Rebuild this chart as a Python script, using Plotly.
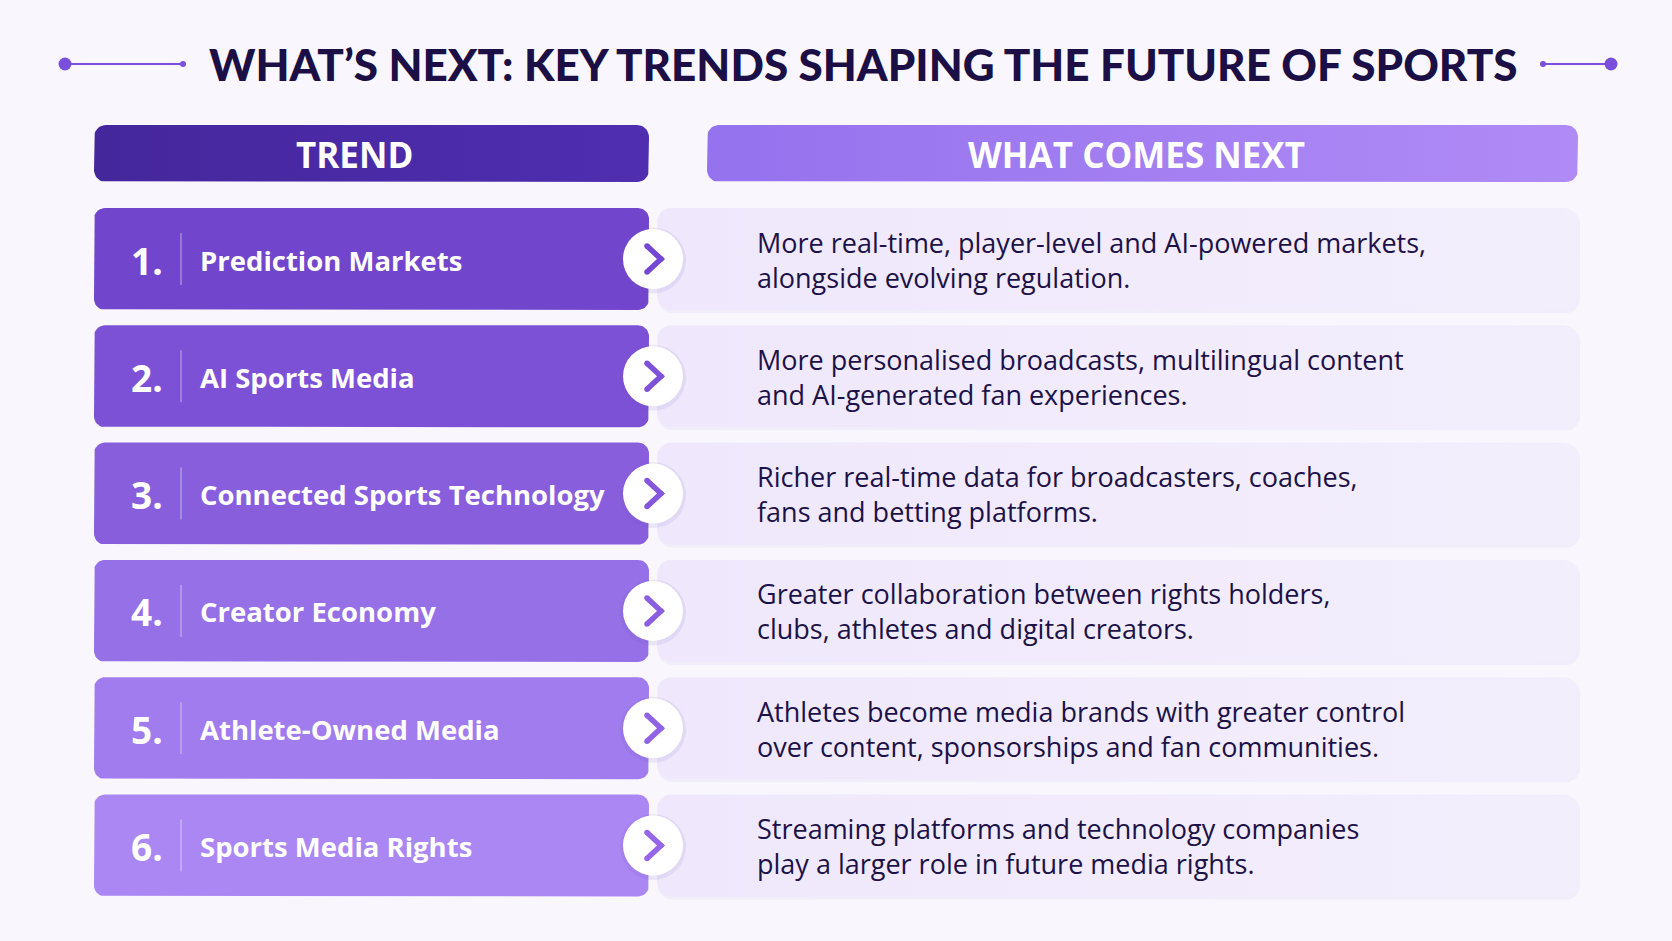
import numpy as np
import plotly.graph_objects as go

# Table content
trends = ["Prediction Markets", "AI Sports Media", "Connected Sports Technology",
          "Creator Economy", "Athlete-Owned Media", "Sports Media Rights"]
next_line1 = ["More real-time, player-level and AI-powered markets,",
              "More personalised broadcasts, multilingual content",
              "Richer real-time data for broadcasters, coaches,",
              "Greater collaboration between rights holders,",
              "Athletes become media brands with greater control",
              "Streaming platforms and technology companies"]
next_line2 = ["alongside evolving regulation.",
              "and AI-generated fan experiences.",
              "fans and betting platforms.",
              "clubs, athletes and digital creators.",
              "over content, sponsorships and fan communities.",
              "play a larger role in future media rights."]
row_colors = ["#7246cc", "#7d51d6", "#885edd", "#9570e6", "#a07cee", "#ab87f4"]
chevron_colors = ["#7448d4", "#7d51d8", "#8456dc", "#8c5ee0", "#9062e4", "#9666e8"]
headers = ["TREND", "WHAT COMES NEXT"]
title = "WHAT\u2019S NEXT: KEY TRENDS SHAPING THE FUTURE OF SPORTS"

W, H = 1672, 941
BG = "#f9f7fd"
NAVY = "#1c1247"
ACCENT = "#7a4fdc"
SANS = "Open Sans"

# layout geometry (pixels, y down)
left_x0, left_x1 = 94, 649
right_x0, right_x1 = 657, 1578
head_y0, head_y1 = 125, 182
row_top, row_h, row_pitch = 208, 102, 117.3
bubble_x = 653


def rrect(x0, y0, x1, y1, r):
    # rounded rectangle outline as polygon points
    xs, ys = [], []
    corners = [(x1 - r, y0 + r, -90, 0), (x1 - r, y1 - r, 0, 90),
               (x0 + r, y1 - r, 90, 180), (x0 + r, y0 + r, 180, 270)]
    for cx, cy, a0, a1 in corners:
        t = np.radians(np.linspace(a0, a1, 10))
        xs += list(cx + r * np.cos(t))
        ys += list(cy + r * np.sin(t))
    return xs + [xs[0]], ys + [ys[0]]


def box(fig, x0, y0, x1, y1, r, color=None, gradient=None):
    xs, ys = rrect(x0, y0, x1, y1, r)
    kw = dict(fillcolor=color) if gradient is None else dict(
        fillgradient=dict(type="horizontal", colorscale=gradient))
    fig.add_trace(go.Scatter(x=xs, y=ys, mode="lines", fill="toself", line=dict(width=0),
                             hoverinfo="skip", showlegend=False, **kw))


fig = go.Figure()

# header bars
box(fig, left_x0, head_y0, left_x1, head_y1, 12, gradient=[[0, "#45279c"], [1, "#4f2eb0"]])
box(fig, right_x0 + 50, head_y0, right_x1, head_y1, 12, gradient=[[0, "#9572ee"], [1, "#b08bf6"]])
fig.add_annotation(x=354, y=(head_y0 + head_y1) / 2 + 1, text=headers[0],
                   showarrow=False, font=dict(family=SANS, size=35, color="white", weight=700))
fig.add_annotation(x=1136, y=(head_y0 + head_y1) / 2 + 1, text=headers[1],
                   showarrow=False, font=dict(family=SANS, size=35, color="white", weight=700))

for i, name in enumerate(trends):
    y0 = row_top + i * row_pitch
    y1 = y0 + row_h
    yc = (y0 + y1) / 2
    # description card with soft shadow
    box(fig, right_x0 + 1, y0 + 2, right_x1 + 2, y1 + 3, 14, color="rgba(120,90,200,0.06)")
    box(fig, right_x0, y0, right_x1, y1, 14, gradient=[[0, "#efe8fc"], [1, "#f3eefc"]])
    # trend card
    box(fig, left_x0, y0, left_x1, y1, 11, color=row_colors[i])
    # number, divider, label
    fig.add_annotation(x=129, y=yc + 1, text=f"{i + 1}.", xanchor="left", showarrow=False,
                       font=dict(family=SANS, size=37, color="white", weight=700))
    fig.add_shape(type="line", x0=181, x1=181, y0=yc - 26, y1=yc + 26,
                  line=dict(color="rgba(255,255,255,0.45)", width=1.2))
    fig.add_annotation(x=198, y=yc + 1, text=name, xanchor="left", showarrow=False,
                       font=dict(family=SANS, size=27.5, color="white", weight=700))
    # arrow bubble with soft shadow
    fig.add_trace(go.Scatter(x=[bubble_x], y=[yc + 1.5], mode="markers",
                             marker=dict(size=66, color="rgba(110,80,190,0.10)", line=dict(width=0)),
                             hoverinfo="skip", showlegend=False))
    fig.add_trace(go.Scatter(x=[bubble_x], y=[yc], mode="markers",
                             marker=dict(size=60, color="white", line=dict(width=0)),
                             hoverinfo="skip", showlegend=False))
    fig.add_trace(go.Scatter(x=[bubble_x - 6, bubble_x + 8, bubble_x - 6], y=[yc - 13, yc, yc + 13],
                             mode="lines+markers", line=dict(color=chevron_colors[i], width=5.5),
                             marker=dict(size=5.5, color=chevron_colors[i]),
                             hoverinfo="skip", showlegend=False))
    # description text
    fig.add_annotation(x=755, y=yc - 17, text=next_line1[i], xanchor="left", showarrow=False,
                       font=dict(family=SANS, size=27, color=NAVY))
    fig.add_annotation(x=755, y=yc + 18, text=next_line2[i], xanchor="left", showarrow=False,
                       font=dict(family=SANS, size=27, color=NAVY))

# title with decorative rules
fig.add_annotation(x=863, y=64, text=title, showarrow=False,
                   font=dict(family="Lato", size=44, color="#1b0f45", weight=900))
for xa, xb, big in [(65, 183, 65), (1543, 1611, 1611)]:
    small = xb if big == xa else xa
    fig.add_shape(type="line", x0=xa, x1=xb, y0=64, y1=64, line=dict(color=ACCENT, width=2))
    fig.add_shape(type="circle", x0=big - 6.5, x1=big + 6.5, y0=64 - 6.5, y1=64 + 6.5,
                  fillcolor=ACCENT, line=dict(width=0))
    fig.add_shape(type="circle", x0=small - 3, x1=small + 3, y0=61, y1=67,
                  fillcolor=ACCENT, line=dict(width=0))

fig.update_xaxes(range=[0, W], visible=False, fixedrange=True)
fig.update_yaxes(range=[H, 0], visible=False, fixedrange=True)
fig.update_layout(width=W, height=H, margin=dict(l=0, r=0, t=0, b=0),
                  paper_bgcolor=BG, plot_bgcolor=BG)
fig.write_html("out.html", config={"displayModeBar": False},
               post_script="document.body.style.margin='0';")
